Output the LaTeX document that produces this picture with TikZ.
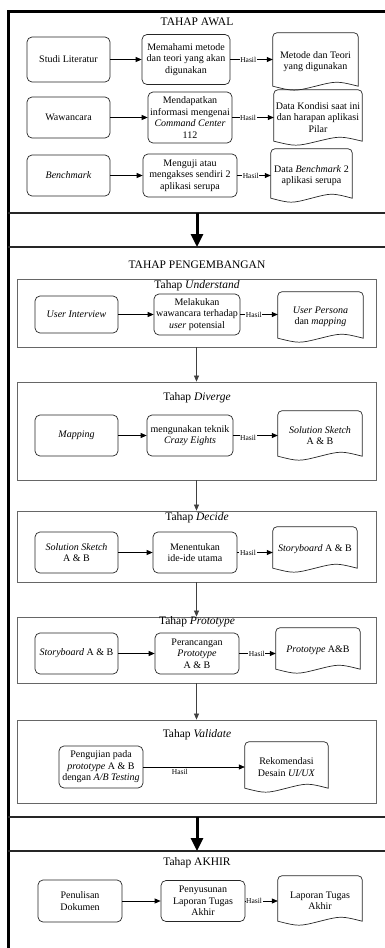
\documentclass[tikz,border=0pt]{standalone}
\usepackage{fontspec}
\setmainfont{Liberation Serif}
\usetikzlibrary{arrows.meta,calc}

\newcommand\boxfont{\fontsize{10}{11.5}\selectfont}
\newcommand\headfont{\fontsize{11.5}{13}\selectfont}
\newcommand\hasilfont{\fontsize{7.5}{8}\selectfont}

% outline of a document shape (wavy bottom) around a named node
\newcommand\wavedoc[1]{%
  \draw[docline]
    ($(#1.south west)+(0,4pt)$) -- ($(#1.north west)+(0,-4pt)$)
    arc[start angle=180,end angle=90,radius=4pt]
    -- ($(#1.north east)+(-4pt,0)$)
    arc[start angle=90,end angle=0,radius=4pt]
    -- ($(#1.south east)+(0,4pt)$)
    .. controls ($(#1.south east)!0.25!(#1.south west)+(0,9.3pt)$) .. ($(#1.south)+(0,4pt)$)
    .. controls ($(#1.south west)!0.25!(#1.south east)+(0,-1.3pt)$) .. ($(#1.south west)+(0,4pt)$)
    -- cycle;}

\tikzset{
  proc/.style={draw=black!85, line width=0.7pt, rounded corners=5pt,
    align=center, inner sep=0pt, font=\boxfont},
  docnode/.style={align=center, inner sep=0pt, font=\boxfont},
  docline/.style={draw=black!85, line width=0.7pt},
  stageframe/.style={draw=black!60, line width=0.8pt, inner sep=0pt},
  heading/.style={font=\headfont, inner sep=0pt},
  conn/.style={draw=black, line width=0.7pt, -{Triangle[length=6pt,width=5pt]}},
  stageconn/.style={draw=black!75, line width=0.7pt, -{Triangle[length=6pt,width=5pt]}},
  bigarrow/.style={draw=black, line width=3pt, -{Triangle[length=13pt,width=12pt]}},
  outerline/.style={draw=black, line width=3pt},
  sepline/.style={draw=black!85, line width=1.5pt},
  hasil/.style={fill=white, font=\hasilfont, inner sep=0.6pt},
}

\begin{document}
\begin{tikzpicture}[x=1pt,y=1pt]
\useasboundingbox (0,0) rectangle (385,-948);

% outer frame and section separators
\draw[outerline] (385,-11) -- (8,-11) -- (8,-949);
\draw[sepline] (8,-213) -- (386,-213);
\draw[sepline] (8,-247) -- (386,-247);
\draw[sepline] (8,-817) -- (386,-817);
\draw[sepline] (8,-851) -- (386,-851);

% ---------------- TAHAP AWAL ----------------
\node[heading] (tAwal) at (197,-22) {TAHAP AWAL};

\node[proc, minimum width=83pt, minimum height=45pt] (sl) at (68.5,-59.5) {Studi Literatur};
\node[proc, minimum width=88pt, minimum height=50pt] (mm) at (186,-59.5) {Memahami metode\\dan teori yang akan\\digunakan};
\node[docnode, minimum width=85pt, minimum height=57pt] (mt) at (315.5,-61.5) {Metode dan Teori\\yang digunakan};
\wavedoc{mt}

\node[proc, minimum width=83pt, minimum height=41pt] (ww) at (68.5,-117.5) {Wawancara};
\node[proc, minimum width=84pt, minimum height=51pt] (mi) at (190,-117.5) {Mendapatkan\\informasi mengenai\\\textit{Command Center}\\112};
\node[docnode, minimum width=88pt, minimum height=55pt] (dk) at (318,-117.5) {Data Kondisi saat ini\\dan harapan aplikasi\\Pilar};
\wavedoc{dk}

\node[proc, minimum width=83pt, minimum height=41pt] (bm) at (68.5,-175.5) {\textit{Benchmark}};
\node[proc, minimum width=94pt, minimum height=43pt] (mu) at (190,-175.5) {Menguji atau\\mengakses sendiri 2\\aplikasi serupa};
\node[docnode, minimum width=81pt, minimum height=53pt] (db) at (311.5,-175.5) {Data \textit{Benchmark} 2\\aplikasi serupa};
\wavedoc{db}

\draw[conn] (sl.east) -- (sl.east -| mm.west);
\draw[conn] (mm.east) -- node[hasil, pos=0.42] {Hasil} (mm.east -| mt.west);
\draw[conn] (ww.east) -- (ww.east -| mi.west);
\draw[conn] (mi.east) -- node[hasil, pos=0.38] {Hasil} (mi.east -| dk.west);
\draw[conn] (bm.east) -- (bm.east -| mu.west);
\draw[conn] (mu.east) -- node[hasil, pos=0.4] {Hasil} (mu.east -| db.west);

\coordinate (awalEnd) at (197,-213);
\coordinate (kembangTop) at (197,-247);
\draw[bigarrow] (awalEnd) -- (kembangTop);

% ---------------- TAHAP PENGEMBANGAN ----------------
\node[heading] (tKembang) at (197,-265) {TAHAP PENGEMBANGAN};

% Understand
\node[stageframe, minimum width=359pt, minimum height=68pt] (und) at (196.5,-313) {};
\node[heading] (tUnd) at (197,-286) {Tahap \textit{Understand}};
\node[proc, minimum width=83pt, minimum height=37pt] (ui) at (76.5,-314.5) {\textit{User Interview}};
\node[proc, minimum width=86pt, minimum height=41pt] (mw) at (197,-314.5) {Melakukan\\wawancara terhadap\\\textit{user} potensial};
\node[docnode, minimum width=85pt, minimum height=50pt] (up) at (320.5,-317) {\textit{User Persona}\\dan \textit{mapping}};
\wavedoc{up}
\draw[conn] (ui.east) -- (ui.east -| mw.west);
\draw[conn] (mw.east) -- node[hasil, pos=0.36] {Hasil} (mw.east -| up.west);

% Diverge
\node[stageframe, minimum width=359pt, minimum height=98pt] (div) at (196.5,-431) {};
\node[heading] (tDiv) at (197,-398) {Tahap \textit{Diverge}};
\node[proc, minimum width=83pt, minimum height=41pt] (mp) at (76.5,-435.5) {\textit{Mapping}};
\node[proc, minimum width=86pt, minimum height=41pt] (ct) at (190,-435.5) {mengunakan teknik\\\textit{Crazy Eights}};
\node[docnode, minimum width=84pt, minimum height=49pt] (ss) at (320,-435.5) {\textit{Solution Sketch}\\A \& B};
\wavedoc{ss}
\draw[conn] (mp.east) -- (mp.east -| ct.west);
\draw[conn] (ct.east) -- node[hasil, pos=0.33, yshift=-2.5pt] {Hasil} (ct.east -| ss.west);

% Decide
\node[stageframe, minimum width=359pt, minimum height=71pt] (dec) at (196.5,-546.5) {};
\node[heading] (tDec) at (197,-518) {Tahap \textit{Decide}};
\node[proc, minimum width=83pt, minimum height=41pt] (sa) at (76.5,-552.5) {\textit{Solution Sketch}\\A \& B};
\node[proc, minimum width=84pt, minimum height=41pt] (iu) at (195,-552.5) {Menentukan\\ide-ide utama};
\node[docnode, minimum width=84pt, minimum height=45pt] (sb) at (315,-549.5) {\textit{Storyboard} A \& B};
\wavedoc{sb}
\draw[conn] (sa.east) -- (sa.east -| iu.west);
\draw[conn] (iu.east) -- node[hasil, pos=0.3] {Hasil} (iu.east -| sb.west);

% Prototype
\node[stageframe, minimum width=359pt, minimum height=66pt] (pro) at (196.5,-650) {};
\node[heading] (tPro) at (197,-622) {Tahap \textit{Prototype}};
\node[proc, minimum width=83pt, minimum height=41pt] (st) at (76.5,-653.5) {\textit{Storyboard} A \& B};
\node[proc, minimum width=84pt, minimum height=41pt] (pr) at (197,-653.5) {Perancangan\\\textit{Prototype}\\A \& B};
\node[docnode, minimum width=84pt, minimum height=45pt] (pa) at (318,-650.5) {\textit{Prototype} A\&B};
\wavedoc{pa}
\draw[conn] (st.east) -- (st.east -| pr.west);
\draw[conn] (pr.east) -- node[hasil, pos=0.48] {Hasil} (pr.east -| pa.west);

% Validate
\node[stageframe, minimum width=359pt, minimum height=83pt] (val) at (196.5,-761.5) {};
\node[heading] (tVal) at (197,-735) {Tahap \textit{Validate}};
\node[proc, minimum width=84pt, minimum height=42pt] (pg) at (101,-767) {Pengujian pada\\\textit{prototype} A \& B\\dengan \textit{A/B Testing}};
\node[docnode, minimum width=83pt, minimum height=50pt] (rk) at (286.5,-767) {Rekomendasi\\Desain \textit{UI/UX}};
\wavedoc{rk}
\draw[conn] (pg.east) -- node[font=\hasilfont, inner sep=0pt, pos=0.36, below=1.5pt] {Hasil} (pg.east -| rk.west);

% links between the stages
\draw[stageconn] (und.south) -- (div.north);
\draw[stageconn] (div.south) -- (dec.north);
\draw[stageconn] (dec.south) -- (pro.north);
\draw[stageconn] (pro.south) -- (val.north);

\coordinate (kembangEnd) at (197,-817);
\coordinate (akhirTop) at (197,-851);
\draw[bigarrow] (kembangEnd) -- (akhirTop);

% ---------------- TAHAP AKHIR ----------------
\node[heading] (tAkhir) at (197,-863) {Tahap AKHIR};
\node[proc, minimum width=84pt, minimum height=42pt] (pd) at (80,-901) {Penulisan\\Dokumen};
\node[proc, minimum width=84pt, minimum height=41pt] (pl) at (203,-901) {Penyusunan\\Laporan Tugas\\Akhir};
\node[docnode, minimum width=84pt, minimum height=49pt] (la) at (320,-900.5) {Laporan Tugas\\Akhir};
\wavedoc{la}
\draw[conn] (pd.east) -- (pd.east -| pl.west);
\draw[conn] (pl.east) -- node[hasil, pos=0.27] {Hasil} (pl.east -| la.west);
\end{tikzpicture}
\end{document}
